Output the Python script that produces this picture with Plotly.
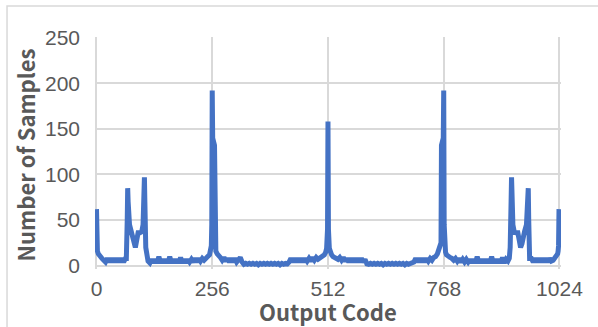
import plotly.graph_objects as go

# Output code histogram (code -> number of samples)
codes = [
    0, 1, 2, 4, 6, 9, 12, 16,
    20, 24, 28, 32, 36, 40, 44, 48, 52, 56, 60, 64,
    66, 68, 69, 70, 73, 77, 80, 83, 86, 89, 92, 96, 100, 103, 105, 106, 107, 109, 111, 114,
    118, 122, 126, 130, 134, 138, 142, 146, 150, 154, 158, 162, 166, 170, 174, 178, 182,
    186, 190, 194, 198, 202, 206, 210, 214, 218, 222, 226, 230, 234, 238, 242, 246, 250,
    252, 254, 255, 256, 257, 261, 262, 264, 267, 270,
    274, 278, 282, 286, 290, 294, 298, 302, 306, 310, 314, 318, 322,
    326, 330, 334, 338, 342, 346, 350, 354, 358, 362, 366, 370, 374, 378, 382, 386, 390,
    394, 398, 402, 406, 410, 414, 418, 422,
    426, 430, 434, 438, 442, 446, 450, 454, 458, 462, 466, 470, 474, 478, 482, 486, 490,
    494, 498, 501, 504, 507, 509, 511, 512, 513, 515, 517, 520, 523, 526, 530,
    534, 538, 542, 546, 550, 554, 558, 562, 566, 570, 574, 578, 582, 586, 590, 594,
    598, 602, 606, 610, 614, 618, 622, 626, 630, 634, 638, 642, 646, 650, 654, 658, 662,
    666, 670, 674, 678, 682, 686, 690, 694, 698,
    702, 706, 710, 714, 718, 722, 726, 730, 734, 738, 742, 746, 750, 754,
    757, 760, 762, 763, 767, 768, 769, 770, 772,
    774, 778, 782, 786, 790, 794, 798, 802, 806, 810, 814, 818, 822, 826, 830, 834, 838,
    842, 846, 850, 854, 858, 862, 866, 870, 874, 878, 882, 886, 890, 894, 898, 902, 906,
    910, 913, 915, 917, 918, 919, 921, 924, 928, 932, 935, 938, 941, 944, 947, 951, 954, 955, 956, 958,
    962, 966, 970, 974, 978, 982, 986, 990, 994, 998, 1002, 1006,
    1010, 1013, 1016, 1018, 1020, 1021, 1022, 1023,
]
counts = [
    62, 22, 16, 13, 11, 9, 8, 6,
    4, 8, 4, 8, 4, 8, 4, 8, 4, 8, 4, 8,
    8, 50, 85, 70, 45, 38, 33, 24, 20, 28, 36, 36, 37, 45, 80, 97, 70, 20, 8, 5,
    3, 7, 3, 7, 3, 10, 3, 7, 3, 7, 3, 10, 3, 7, 3, 7, 3,
    9, 3, 7, 3, 7, 4, 7, 4, 8, 4, 8, 5, 8, 6, 9, 10, 12,
    15, 22, 45, 192, 140, 132, 25, 16, 13, 10,
    9, 6, 9, 5, 8, 4, 8, 4, 8, 4, 8, 9, 4,
    1.5, 2.5, 1.5, 2.5, 1.5, 2.5, 1.5, 2.5, 1, 2.5, 1.5, 2.5, 1.5, 2.5, 1.5, 2.5, 1.5,
    2.5, 1.5, 2.5, 1, 2.5, 1.5, 2.5, 2,
    4, 8, 4, 8, 4, 8, 4, 8, 4, 8, 5, 8, 5, 9, 6, 9, 7,
    8, 9, 10, 12, 15, 19, 40, 158, 40, 19, 15, 12, 10, 9, 8,
    7, 9, 6, 9, 5, 8, 4, 8, 4, 8, 4, 8, 4, 8, 4, 7,
    2, 1.5, 2.5, 1.5, 2.5, 1.5, 2.5, 1.5, 2.5, 1, 2.5, 1.5, 2.5, 1.5, 2.5, 1.5, 2.5,
    1.5, 2.5, 1.5, 2.5, 1, 2.5, 1.5, 2.5, 2,
    4, 8, 4, 8, 4, 8, 4, 8, 5, 8, 6, 9, 10, 13,
    16, 22, 25, 132, 140, 192, 45, 22, 15,
    12, 10, 9, 8, 6, 8, 5, 8, 4, 7, 4, 7, 4, 7, 3, 7, 3,
    10, 3, 7, 3, 7, 3, 7, 3, 10, 3, 7, 3, 7, 3, 9, 3, 7,
    5, 8, 20, 70, 97, 80, 45, 37, 36, 36, 28, 20, 24, 33, 38, 45, 70, 85, 50, 8,
    8, 4, 8, 4, 8, 4, 8, 4, 8, 4, 8, 5,
    6, 8, 9, 11, 13, 16, 22, 62,
]
assert len(codes) == len(counts)

x_ticks = [0, 256, 512, 768, 1024]
y_ticks = [0, 50, 100, 150, 200, 250]
x_title = "Output Code"
y_title = "Number of Samples"

GRID = "#d9d9d9"
TEXT = "#595959"
LINE = "#4472C4"

fig = go.Figure()
fig.add_trace(go.Scatter(
    x=codes, y=counts, mode="lines",
    line=dict(color=LINE, width=5),
    showlegend=False, hoverinfo="x+y",
))

tick_font = dict(family="Liberation Sans, Arial, sans-serif", size=21, color=TEXT)
title_font = dict(family="Noto Sans CJK SC, Noto Sans, sans-serif", size=22, color=TEXT, weight=600)

fig.update_layout(
    width=598, height=327,
    margin=dict(l=95, r=37, t=37, b=58),
    paper_bgcolor="white", plot_bgcolor="white",
    xaxis=dict(
        range=[-3.3, 1027.4], tickvals=x_ticks, ticktext=[str(v) for v in x_ticks],
        showgrid=True, gridcolor=GRID, gridwidth=1.5, zeroline=False, showline=False,
        ticks="", tickfont=tick_font, ticklabelstandoff=5,
    ),
    yaxis=dict(
        range=[-3.63, 250.77], tickvals=y_ticks,
        showgrid=True, gridcolor=GRID, gridwidth=1.5, zeroline=False, showline=False,
        ticks="", tickfont=tick_font, ticklabelstandoff=14,
    ),
    shapes=[dict(type="rect", xref="paper", yref="paper",
                 x0=-0.1888, x1=1.3, y0=-0.4, y1=1.1336,
                 line=dict(color=GRID, width=1.5), fillcolor="rgba(0,0,0,0)", layer="below")],
    annotations=[
        dict(text=x_title, xref="paper", yref="paper", x=0.5, y=-0.18,
             showarrow=False, font=title_font, xanchor="center", yanchor="middle"),
        dict(text=y_title, xref="paper", yref="paper", x=-0.15, y=0.49, textangle=-90,
             showarrow=False, font=title_font, xanchor="center", yanchor="middle"),
    ],
)

# remove the browser's default 8px body margin so the figure sits at the page origin
fig.write_html("out.html", config={"displayModeBar": False},
               post_script="document.body.style.margin='0';")
